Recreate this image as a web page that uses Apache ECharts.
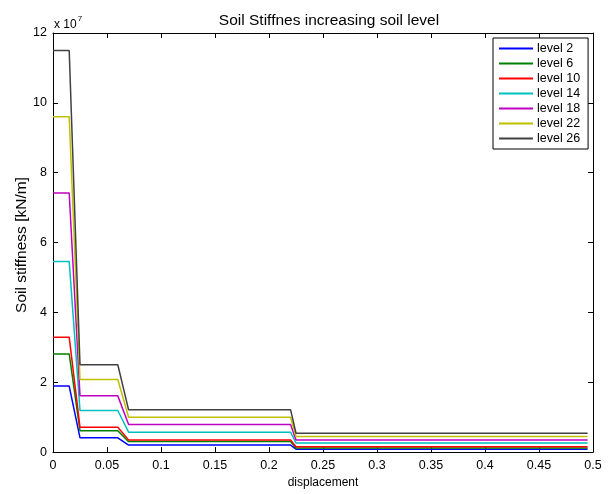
<!DOCTYPE html>
<html><head><meta charset="utf-8">
<script src="https://cdn.jsdelivr.net/npm/echarts@6/dist/echarts.min.js"></script>
<style>html,body{margin:0;padding:0;background:#fff}#c{width:611px;height:494px}</style>
</head><body><div id="c"></div>
<script>
// x positions (displacement) of each line's vertices
const displacement = [0, 0.015, 0.025, 0.06, 0.07, 0.22, 0.225, 0.495];
// stiffness values in kN/m
const level2  = [1.89e7, 1.89e7, 0.41e7, 0.41e7, 0.20e7, 0.20e7, 0.085e7, 0.085e7];
const level6  = [2.81e7, 2.81e7, 0.61e7, 0.61e7, 0.30e7, 0.30e7, 0.12e7, 0.12e7];
const level10 = [3.29e7, 3.29e7, 0.71e7, 0.71e7, 0.35e7, 0.35e7, 0.155e7, 0.155e7];
const level14 = [5.46e7, 5.46e7, 1.19e7, 1.19e7, 0.57e7, 0.57e7, 0.26e7, 0.26e7];
const level18 = [7.42e7, 7.42e7, 1.61e7, 1.61e7, 0.79e7, 0.79e7, 0.345e7, 0.345e7];
const level22 = [9.6e7, 9.6e7, 2.08e7, 2.08e7, 1.0e7, 1.0e7, 0.45e7, 0.45e7];
const level26 = [11.5e7, 11.5e7, 2.5e7, 2.5e7, 1.21e7, 1.21e7, 0.54e7, 0.54e7];
const seriesNames = ['level 2','level 6','level 10','level 14','level 18','level 22','level 26'];
const seriesData = [level2, level6, level10, level14, level18, level22, level26];
const colors = ['#0000ff','#008000','#ff0000','#00bfbf','#bf00bf','#bfbf00','#404040'];
const yTitle = 'Soil stiffness [kN/m]';

const font = 'Liberation Sans, Arial, Helvetica, sans-serif';
const chart = echarts.init(document.getElementById('c'), null, {renderer:'canvas'});
const axisLineStyle = {color:'#000', width:1};
const series = seriesNames.map((n,i)=>({
  name:n, type:'line', xAxisIndex:0, yAxisIndex:0,
  data: displacement.map((x,j)=>[x, seriesData[i][j]]),
  showSymbol:false, symbol:'none', animation:false,
  lineStyle:{color:colors[i], width:1.5}, itemStyle:{color:colors[i]}
}));
chart.setOption({
  animation:false,
  color: colors,
  title:{text:'Soil Stiffnes increasing soil level', left:324, top:8, textAlign:'center',
    textStyle:{fontFamily:font, fontSize:15.5, fontWeight:'normal', color:'#000'}},
  grid:{left:53, right:18, top:33, bottom:37, containLabel:false},
  legend:{
    orient:'vertical', left:493, top:38, width:94,
    backgroundColor:'#fff', borderColor:'#000', borderWidth:1,
    padding:[4,8,4,6], itemGap:2, itemWidth:34, itemHeight:2, icon:'rect',
    textStyle:{fontFamily:font, fontSize:12.5, color:'#000', padding:[0,0,0,-1]},
    data: seriesNames
  },
  xAxis:[
    {type:'value', min:0, max:0.5, interval:0.05, position:'bottom',
     name:'displacement', nameLocation:'middle', nameGap:23,
     nameTextStyle:{fontFamily:font, fontSize:12, color:'#000'},
     axisLine:{show:true, onZero:false, lineStyle:axisLineStyle},
     axisTick:{show:true, inside:true, length:5, lineStyle:axisLineStyle},
     axisLabel:{fontFamily:font, fontSize:12.5, color:'#000', margin:7,
       formatter:v=>String(+v.toFixed(2))},
     splitLine:{show:false}},
    {type:'value', min:0, max:0.5, interval:0.05, position:'top',
     axisLine:{show:true, onZero:false, lineStyle:axisLineStyle},
     axisTick:{show:true, inside:true, length:5, lineStyle:axisLineStyle},
     axisLabel:{show:false}, splitLine:{show:false}}
  ],
  yAxis:[
    {type:'value', min:0, max:12e7, interval:2e7, position:'left',
     axisLine:{show:true, onZero:false, lineStyle:axisLineStyle},
     axisTick:{show:true, inside:true, length:5, lineStyle:axisLineStyle},
     axisLabel:{fontFamily:font, fontSize:12.5, color:'#000', margin:6,
       formatter:v=>String(Math.round(v/1e7))},
     splitLine:{show:false}},
    {type:'value', min:0, max:12e7, interval:2e7, position:'right',
     axisLine:{show:true, onZero:false, lineStyle:axisLineStyle},
     axisTick:{show:true, inside:true, length:5, lineStyle:axisLineStyle},
     axisLabel:{show:false}, splitLine:{show:false}}
  ],
  graphic:[{
    type:'text', left:54, top:15,
    style:{
      text:'{a|x 10}{b|7}',
      rich:{
        a:{fontFamily:font, fontSize:12, fill:'#000', verticalAlign:'bottom'},
        b:{fontFamily:font, fontSize:8, fill:'#000', verticalAlign:'top', padding:[0,0,8,1]}
      }
    }
  },{
    type:'text', x:22, y:245, rotation:Math.PI/2,
    style:{text:yTitle, fontFamily:font, fontSize:15.5, fill:'#000',
      textAlign:'center', textVerticalAlign:'middle'}
  }],
  series: series
});
</script></body></html>
